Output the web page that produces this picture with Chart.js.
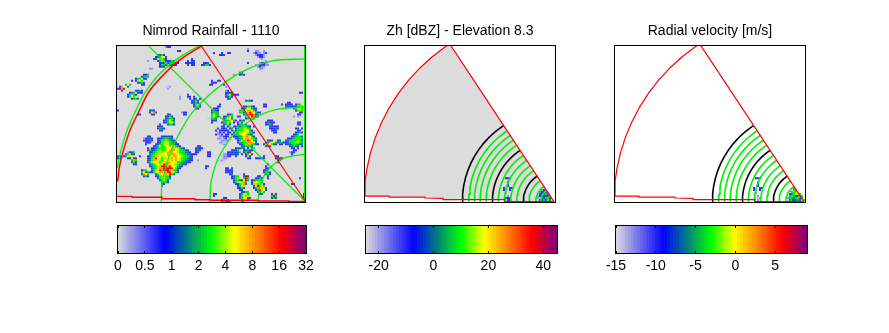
<!DOCTYPE html>
<html lang="en">
<head>
    <meta charset="UTF-8">
    <script src="https://cdn.jsdelivr.net/npm/chart.js"></script>
    <title>Nimrod Rainfall and radar scan</title>
</head>
<style>
    body { margin: 0; background: #fff; }
    canvas { position: absolute; }
</style>
<body>
    <canvas id="rain" style="left:106px;top:0" width="210" height="206"></canvas>
    <canvas id="zh" style="left:354px;top:0" width="212" height="206"></canvas>
    <canvas id="vel" style="left:604px;top:0" width="212" height="206"></canvas>
    <canvas id="rainBar" style="left:92px;top:225px" width="240" height="60"></canvas>
    <canvas id="zhBar" style="left:341px;top:225px" width="240" height="60"></canvas>
    <canvas id="velBar" style="left:591px;top:225px" width="240" height="60"></canvas>
</body>
<script>
    // Echo intensity per grid row, tokens are "column:levels"
    // levels: 1 lavender ... 3 blue ... 6 green ... 8 yellow, 9 orange, a red
    const rainRows = [
        "24:233",
        "65:2",
        "30:33 65:3 69:22 73:2",
        "48:3 52:3 55:33 68:2322 73:23",
        "20:3463 51:333 69:23332",
        "19:345884 70:2332",
        "18:3479853 37:3 71:12",
        "15:2 20:35763 25:3463 35:3 37:34 73:12",
        "21:343 25:356543 34:33433 43:334 65:3 71:23321",
        "21:3663 26:3433 35:3 37:33 42:34653 69:2 71:33322",
        "21:343 70:2322",
        "16:22 71:221",
        "72:1",
        "61:33",
        "13:335 58:2 61:353",
        "12:3565",
        "9:366 13:33",
        "7:3 9:3786 47:3 50:33",
        "10:3463 47:33 49:3",
        "4:585 12:33 46:33 53:3",
        "1:398 5:4 24:112 54:2",
        "0:3a93 25:2",
        "2:3 9:3453 54:23",
        "6:345 10:3 11:33 54:3343 91:33",
        "5:35753 35:3 54:3674a 59:33",
        "5:3686 31:2 35:33 38:3 54:3463",
        "7:3564 31:2 36:3 38:34 41:3 55:34",
        "37:3463 64:4543",
        "37:3453 85:33",
        "38:3684 51:3 73:33 82:3 84:3333 89:356",
        "38:3673 50:34 63:346643 73:33 84:3343 88:34676",
        "39:33 48:3 49:3 50:3 62:34688533 88:46876",
        "0:3 16:343 47:3343 61:56 63:5899854 89:3676",
        "16:3894 32:233 47:4645 61:56 63:479a98633 91:33",
        "10:33 17:33 25:34 33:33 47:5764 55:345 63:469aa935 90:33",
        "24:3463 47:6863 53:34675 60:34 64:578a933 88:2 90:2",
        "24:34663 45:11 47:564 53:46884 64:35764 ",
        "23:345764 47:343 53:3569853 61:354 75:333",
        "23:345785 47:3 52:35 54:476 58:3 60:374 74:34433 90:33",
        "21:3 25:4553 53:36 56:4 60:35583 74:3453 90:33",
        "20:343 52:33 55:3 58:3 59:45 61:356643 66:3 68:3 76:33 78:33 80:3",
        "20:3543 50:3 52:334 56:33 59:35667765 76:3 77:3343 89:3 90:3 92:3",
        "21:33 49:3 51:3 52:33 54:33 57:3 59:35667885 66:53 77:333 90:34",
        "31:2 50:2323 55:33 58:35677887653 78:33 89:345 92:3",
        "49:3 50:223 54:33 57:34567887 65:543 88:345",
        "15:33 22:33 24:3443 50:12233 55:3 58:334 61:4689986 68:3 87:34566 92:4",
        "13:2 14:3343 20:33456543 50:22 52:123 56:2 59:34 61:4689986 68:64 85:33456665",
        "13:33343 20:346676543 51:1222 55:21 60:35 62:789a9854 75:334 80:34 84:345566763",
        "14:333 20:3467876543 51:2212 54:1 60:35 62:5689998 69:4 74:3598754653 84:345667765",
        "14:3 19:346687765433 52:121 61:3 62:468896543 73:3798643 81:33 84:344566544",
        "18:34576678987643 40:33 62:345654 74:453 86:34543 92:3",
        "15:373 18:3456667889987643 39:3433 59:34 61:354 65:3 67:36 87:33 90:3",
        "15:364 17:3456766789998766543 39:343 57:3 58:3 59:45 63:3453 67:3 88:33",
        "5:2345 16:345677788999887665443 39:33 45:33 55:3344 59:345 63:36a3 86:2 87:3 88:3",
        "4:4673 8:3 16:4567778889899887665443 38:33 45:33 53:2233 57:33 59:34 62:3 64:3683 87:3",
        "0:34 3:35878 11:3 15:34568987787789988766543 45:33 52:1223 56:3 59:3 64:373 73:3 79:33",
        "0:34 5:3 6:47a4 15:3469a876778898987665443 52:1221 65:33 69:33 71:33 73:3 79:34a3",
        "7:596 15:34699876788898987654433 40:2 51:121 80:a3",
        "7:463 15:4578876789998876654433 51:11 80:3",
        "8:33 16:4567878a99887765443 75:3",
        "16:345689aaa9a887543 44:33 74:3",
        "17:456899aaaaa8643 44:3 54:33 57:3 74:33",
        "12:356 17:4578a9aaa98653 54:3333 73:345",
        "12:68a53 17:35789989aa8753 54:3 55:34 57:3 73:3563",
        "12:4986 19:4678898a64 56:34 63:3 74:463",
        "13:353 19:34677653 57:3456 63:4a3 70:33 75:3",
        "20:4677664 57:34678 63:6a5 69:3456 72:3 75:3 91:3",
        "21:46754 58:45644 63:8a5 67:34566 72:4",
        "22:4553 58:357879 64:5 67:378875",
        "22:43 59:346794 67:4976873 87:33",
        "22:3 60:3587 68:47a686",
        "60:3463 68:3598974",
        "61:33 69:35a783",
        "62:3456 70:3575",
        "48:33 61:35776 71:34 77:373 93:3",
        "48:3 61:46897 77:6a6 93:3",
        "53:33 61:4688a4 77:363 93:3",
        "52:35 55:3 62:4785",
        "52:363 55:34 62:46"
    ];

    // Radar grids start at this row
    const scanFirstRow = 66;
    const zhRows = [
        "70:333", "", "71:3", "71:3", "71:3", "69:3 72:33", "69:3 72:3 88:23", "87:2343",
        "87:34354", "71:2 86:234343", "70:333 86:2143654", "71:33 86:13453748",
        "85:234435473", "86:124133445"
    ];
    const velRows = [
        "70:333", "", "71:3", "71:3", "71:3", "69:3 72:33 89:5", "69:3 72:3 89:66", "88:5778",
        "87:346875", "71:2 87:5653476", "70:112 86:25345736", "71:21 86:134344476",
        "86:12433344", "86:12233333"
    ];

    // Panel 1 map overlay (km east, km north of the corner)
    const sectorEdge = [[84.3,158],[188,2.3]];
    const sectorArc = [[84.3,158],[70,149],[56.7,139],[43.3,125.7],[31.7,111.7],[21.7,91.7],[13.3,74],[6.7,54],[2.3,35.7],[0.7,21.7]];
    const sectorFloor = [[0,6.7],[15,6.7],[15,5.8],[45,5.8],[45,4.3],[78,4.3],[78,3.3],[94,3.3],[94,2.7],[141,2.7],[141,2],[172,2],[172,1.5],[188,1.5]];
    const ringA = [[81.7,158],[65,148.3],[51.7,138.3],[38.3,125],[27.7,110.7],[19.3,94],[11.7,77.3],[6,60.7],[2,44],[0.3,35.7]];
    const ringB = [[44.3,0],[45,19],[51.7,45.7],[60,65.7],[75,90.7],[98.3,114],[125,132],[155,143],[187.7,145]];
    const ringC = [[92.7,0],[94.3,22.3],[101.7,45.7],[116.7,69],[135,84],[158.3,94],[187.7,96.7]];
    const ringD = [[141,0],[143.3,19],[153.3,35.7],[168.3,45.7],[187.7,49]];
    const gridDiagonal = [[31.7,158],[187.7,2.3]];
    const gridRight = [[188,0],[188,159]];

    // Panels 2 and 3: scan geometry around the radar corner, range and bearing
    const radar = [189, 1.3];
    const scanRange = 190;
    const arcBearings = [6.2,10,15,20,25,30,35,40,45,50,55,56.7];
    const ringBearings = [0,5,10,15,20,25,30,35,40,45,50,55,56.7];
    const blackRanges = [91.7,61.7,30.7];
    const greenRanges = [85.3,79.7,74,68,55.7,49.7,43.3,37.3,25,18.3,13.3,7];
    const scanFloor = [[0,7],[24,7],[24,6],[60,6],[60,5],[78,4.7],[78,3.3],[140,3.3],[140,1.7],[189,1.3]];

    const rainTicks = ["0","0.5","1","2","4","8","16","32"];
    const zhTicks = [-20,0,20,40];
    const velTicks = [-15,-10,-5,0,5];

    const levelColors = {
        "1":"#c9c9f2","2":"#8f8fff","3":"#3030ff","4":"#0070a8","5":"#00c860",
        "6":"#00f000","7":"#a8f800","8":"#ffff00","9":"#ff9a00","a":"#f00000"
    };
    const ringGreen = '#00f000';
    const barStops = [[0,220,220,220],[0.25,0,0,255],[0.5,0,255,0],[0.62,255,255,0],[0.87,255,0,0],[1,128,0,128]];
    const barSteps = 63;

    Chart.defaults.font.family = "'Liberation Sans', sans-serif";
    Chart.defaults.color = "#000";
    Chart.defaults.animation = false;
    Chart.defaults.devicePixelRatio = 1;

    // black box around the plot, under the marks
    const frame = {
        id: 'frame',
        beforeDatasetsDraw(chart) {
            const a = chart.chartArea, ctx = chart.ctx;
            ctx.save();
            ctx.strokeStyle = '#000';
            ctx.lineWidth = 1;
            ctx.strokeRect(a.left - 0.5, a.top - 0.5, a.width + 1, a.height + 1);
            ctx.restore();
        }
    };
    const greyPanel = {
        id: 'greyPanel',
        beforeDatasetsDraw(chart, args, opts) {
            if (!opts.color) return;
            const a = chart.chartArea;
            chart.ctx.fillStyle = opts.color;
            chart.ctx.fillRect(a.left, a.top, a.width, a.height);
        }
    };

    function echoDatasets(rows, firstRow, cell) {
        var byLevel = {};
        rows.forEach(function (row, r) {
            row.split(" ").filter(Boolean).forEach(function (token) {
                var parts = token.split(":");
                for (let i = 0; i < parts[1].length; i++) {
                    var lv = parts[1][i];
                    (byLevel[lv] = byLevel[lv] || []).push({
                        x: (Number(parts[0]) + i + 0.5) * cell,
                        y: 158 - (firstRow + r + 0.5) * cell
                    });
                }
            });
        });
        return Object.keys(byLevel).map(function (lv) {
            return {
                data: byLevel[lv],
                pointStyle: 'rect',
                pointRadius: cell * Math.SQRT1_2,
                pointBorderWidth: 0,
                backgroundColor: levelColors[lv],
                showLine: false
            };
        });
    }

    function line(points, color, width, curve) {
        return {
            data: points.map(p => ({ x: p[0], y: p[1] })),
            borderColor: color,
            borderWidth: width,
            pointRadius: 0,
            showLine: true,
            tension: curve ? 0.3 : 0
        };
    }

    function polar(range, bearing) {
        var rad = bearing * Math.PI / 180;
        return [radar[0] - range * Math.cos(rad), radar[1] + range * Math.sin(rad)];
    }

    function panel(id, title, width, datasets, grey) {
        new Chart(document.getElementById(id), {
            type: 'scatter',
            data: { datasets: datasets },
            plugins: [greyPanel, frame],
            options: {
                responsive: false,
                layout: { padding: { left: 11, right: 11, bottom: 3 } },
                plugins: {
                    legend: { display: false },
                    tooltip: { enabled: false },
                    greyPanel: { color: grey },
                    title: {
                        display: true,
                        text: title,
                        color: '#000',
                        font: { size: 14, weight: 'normal', lineHeight: '20px' },
                        padding: { top: 21, bottom: 5 }
                    }
                },
                scales: {
                    x: { display: false, min: 0, max: width },
                    y: { display: false, min: 1, max: 158 }
                }
            }
        });
    }

    function barColor(t) {
        for (let i = 1; i < barStops.length; i++) {
            var a = barStops[i - 1], b = barStops[i];
            if (t <= b[0]) {
                var f = (t - a[0]) / (b[0] - a[0]);
                return `rgb(${a[1] + (b[1] - a[1]) * f},${a[2] + (b[2] - a[2]) * f},${a[3] + (b[3] - a[3]) * f})`;
            }
        }
    }

    function colorBar(id, min, max, ticks, label, left, right) {
        var steps = [], colors = [];
        for (let i = 0; i < barSteps; i++) {
            steps.push({ x: min + (i + 0.5) * (max - min) / barSteps, y: 1 });
            colors.push(barColor((i + 0.5) / barSteps));
        }
        new Chart(document.getElementById(id), {
            type: 'bar',
            data: { datasets: [{ data: steps, backgroundColor: colors, barPercentage: 1, categoryPercentage: 1 }] },
            plugins: [frame],
            options: {
                responsive: false,
                layout: { padding: { left: left, right: right, top: 1 } },
                plugins: { legend: { display: false }, tooltip: { enabled: false } },
                scales: {
                    y: { display: false, min: 0, max: 1 },
                    x: {
                        type: 'linear',
                        min: min,
                        max: max,
                        offset: false,
                        afterBuildTicks: s => { s.ticks = ticks.map(v => ({ value: v })); },
                        afterFit: s => { s.height = 32; },
                        border: { display: false, dash: [2, 23, 2] },
                        grid: { z: 1, color: '#000', offset: false, drawTicks: false, tickLength: 0 },
                        ticks: {
                            autoSkip: false,
                            maxRotation: 0,
                            padding: 5,
                            font: { size: 14 },
                            callback: label
                        }
                    }
                }
            }
        });
    }

    function scanDatasets(rows, grey) {
        var outline = [radar].concat(arcBearings.slice().reverse().map(b => polar(scanRange, b)), scanFloor);
        var sets = [line(outline, '#ff0000', 1.2, false)];
        greenRanges.forEach(r => sets.push(line(ringBearings.map(b => polar(r, b)), ringGreen, 1.6, false)));
        blackRanges.forEach(r => sets.push(line(ringBearings.map(b => polar(r, b)), '#000', 1.6, false)));
        sets = sets.concat(echoDatasets(rows, scanFirstRow, 2));
        if (grey) {
            var shade = line(outline, 'rgba(0,0,0,0)', 0, false);
            shade.fill = 'shape';
            shade.backgroundColor = '#dcdcdc';
            sets.push(shade);
        }
        return sets;
    }

    panel('rain', 'Nimrod Rainfall - 1110', 188, [
        line(sectorEdge, '#ff0000', 1.2),
        line(sectorArc, '#ff0000', 1.5, true),
        line(sectorFloor, '#ff0000', 1.4),
        line(ringA, ringGreen, 1.3, true),
        line(ringB, ringGreen, 1.3, true),
        line(ringC, ringGreen, 1.3, true),
        line(ringD, ringGreen, 1.3, true),
        line(gridDiagonal, ringGreen, 1.2),
        line(gridRight, ringGreen, 2)
    ].concat(echoDatasets(rainRows, 0, 2)), '#dcdcdc');

    panel('zh', 'Zh [dBZ] - Elevation 8.3', 190, scanDatasets(zhRows, true));
    panel('vel', 'Radial velocity [m/s]', 190, scanDatasets(velRows, false));

    colorBar('rainBar', 0, 7, [0,1,2,3,4,5,6,7], (v) => rainTicks[v], 26, 26);
    colorBar('zhBar', -24.6, 45, zhTicks, (v) => v, 25, 24);
    colorBar('velBar', -15, 9, velTicks, (v) => v, 25, 24);
</script>
</html>
